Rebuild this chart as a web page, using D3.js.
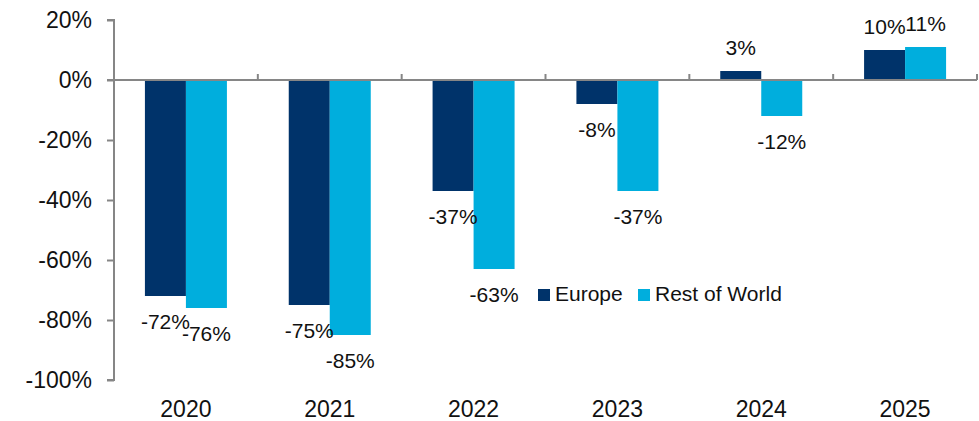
<!DOCTYPE html>
<html>
<head>
<meta charset="utf-8">
<script src="https://cdn.jsdelivr.net/npm/d3@7"></script>
<style>
  html, body { margin: 0; padding: 0; background: #fff; }
  svg { display: block; }
  text { font-family: "Liberation Sans", Arial, sans-serif; fill: #111; }
</style>
</head>
<body>
<svg id="chart" width="979" height="421"></svg>
<script>
const categories = ["2020", "2021", "2022", "2023", "2024", "2025"];
const seriesNames = ["Europe", "Rest of World"];
const europe = [-72, -75, -37, -8, 3, 10];
const restOfWorld = [-76, -85, -63, -37, -12, 11];
const yTicks = [20, 0, -20, -40, -60, -80, -100];
const colors = ["#00336A", "#00AEDD"];

const seriesValues = [europe, restOfWorld];
const svg = d3.select("#chart");
const plotLeft = 114, plotRight = 977, plotTop = 20, plotBottom = 380;
const axisColor = "#868686";

const y = d3.scaleLinear().domain([-100, 20]).range([plotBottom, plotTop]);
const x = d3.scaleBand().domain(categories).range([plotLeft, plotRight]).padding(0);
const bw = x.bandwidth();
const barW = 41;
const x1 = d3.scaleBand().domain(seriesNames).range([bw / 2 - barW, bw / 2 + barW]).padding(0);

// bars
const data = [];
categories.forEach((c, i) => {
  seriesNames.forEach((s, j) => data.push({ cat: c, series: s, value: seriesValues[j][i], color: colors[j] }));
});

svg.append("g").selectAll("rect").data(data).join("rect")
  .attr("x", d => x(d.cat) + x1(d.series))
  .attr("width", x1.bandwidth())
  .attr("y", d => Math.min(y(d.value), y(0)))
  .attr("height", d => Math.abs(y(d.value) - y(0)))
  .attr("fill", d => d.color);

// y axis
const yAxis = d3.axisLeft(y).tickValues(yTicks).tickSize(7).tickPadding(15)
  .tickFormat(d => d + "%");
const gy = svg.append("g").attr("transform", `translate(${plotLeft},0)`).call(yAxis);
gy.select(".domain").attr("stroke", axisColor).attr("stroke-width", 2)
  .attr("d", `M-7,${plotTop}H0V${plotBottom}H-7`);
gy.selectAll(".tick line").attr("stroke", axisColor).attr("stroke-width", 2);
gy.selectAll(".tick text").attr("font-size", 23).attr("fill", "#111")
  .attr("font-family", "Liberation Sans, Arial, sans-serif");

// zero line with category ticks
const gx = svg.append("g").attr("transform", `translate(0,${y(0)})`)
  .call(d3.axisTop(x).tickSize(0).tickFormat(""));
gx.select(".domain").attr("stroke", axisColor).attr("stroke-width", 2)
  .attr("d", `M${plotLeft - 7},0H${plotRight}`);
gx.selectAll(".tick").remove();
const boundaries = categories.map(c => x(c) + bw);
gx.selectAll("line.ctick").data(boundaries).join("line")
  .attr("class", "ctick")
  .attr("x1", d => d).attr("x2", d => d)
  .attr("y1", 0).attr("y2", -6)
  .attr("stroke", axisColor).attr("stroke-width", 2);

// category labels
svg.append("g").selectAll("text").data(categories).join("text")
  .attr("x", d => x(d) + bw / 2)
  .attr("y", 417)
  .attr("text-anchor", "middle")
  .attr("font-size", 23)
  .text(d => d);

// data labels
svg.append("g").selectAll("text").data(data).join("text")
  .attr("x", d => x(d.cat) + x1(d.series) + x1.bandwidth() / 2)
  .attr("y", d => d.value < 0 ? y(d.value) + 33 : y(d.value) - 16)
  .attr("text-anchor", "middle")
  .attr("font-size", 21)
  .text(d => d.value + "%");

// legend
const legend = svg.append("g");
const legendX = [538, 638];
seriesNames.forEach((s, j) => {
  legend.append("rect").attr("x", legendX[j]).attr("y", 289).attr("width", 12).attr("height", 12).attr("fill", colors[j]);
  legend.append("text").attr("x", legendX[j] + 17).attr("y", 301).attr("font-size", 21).text(s);
});
</script>
</body>
</html>
